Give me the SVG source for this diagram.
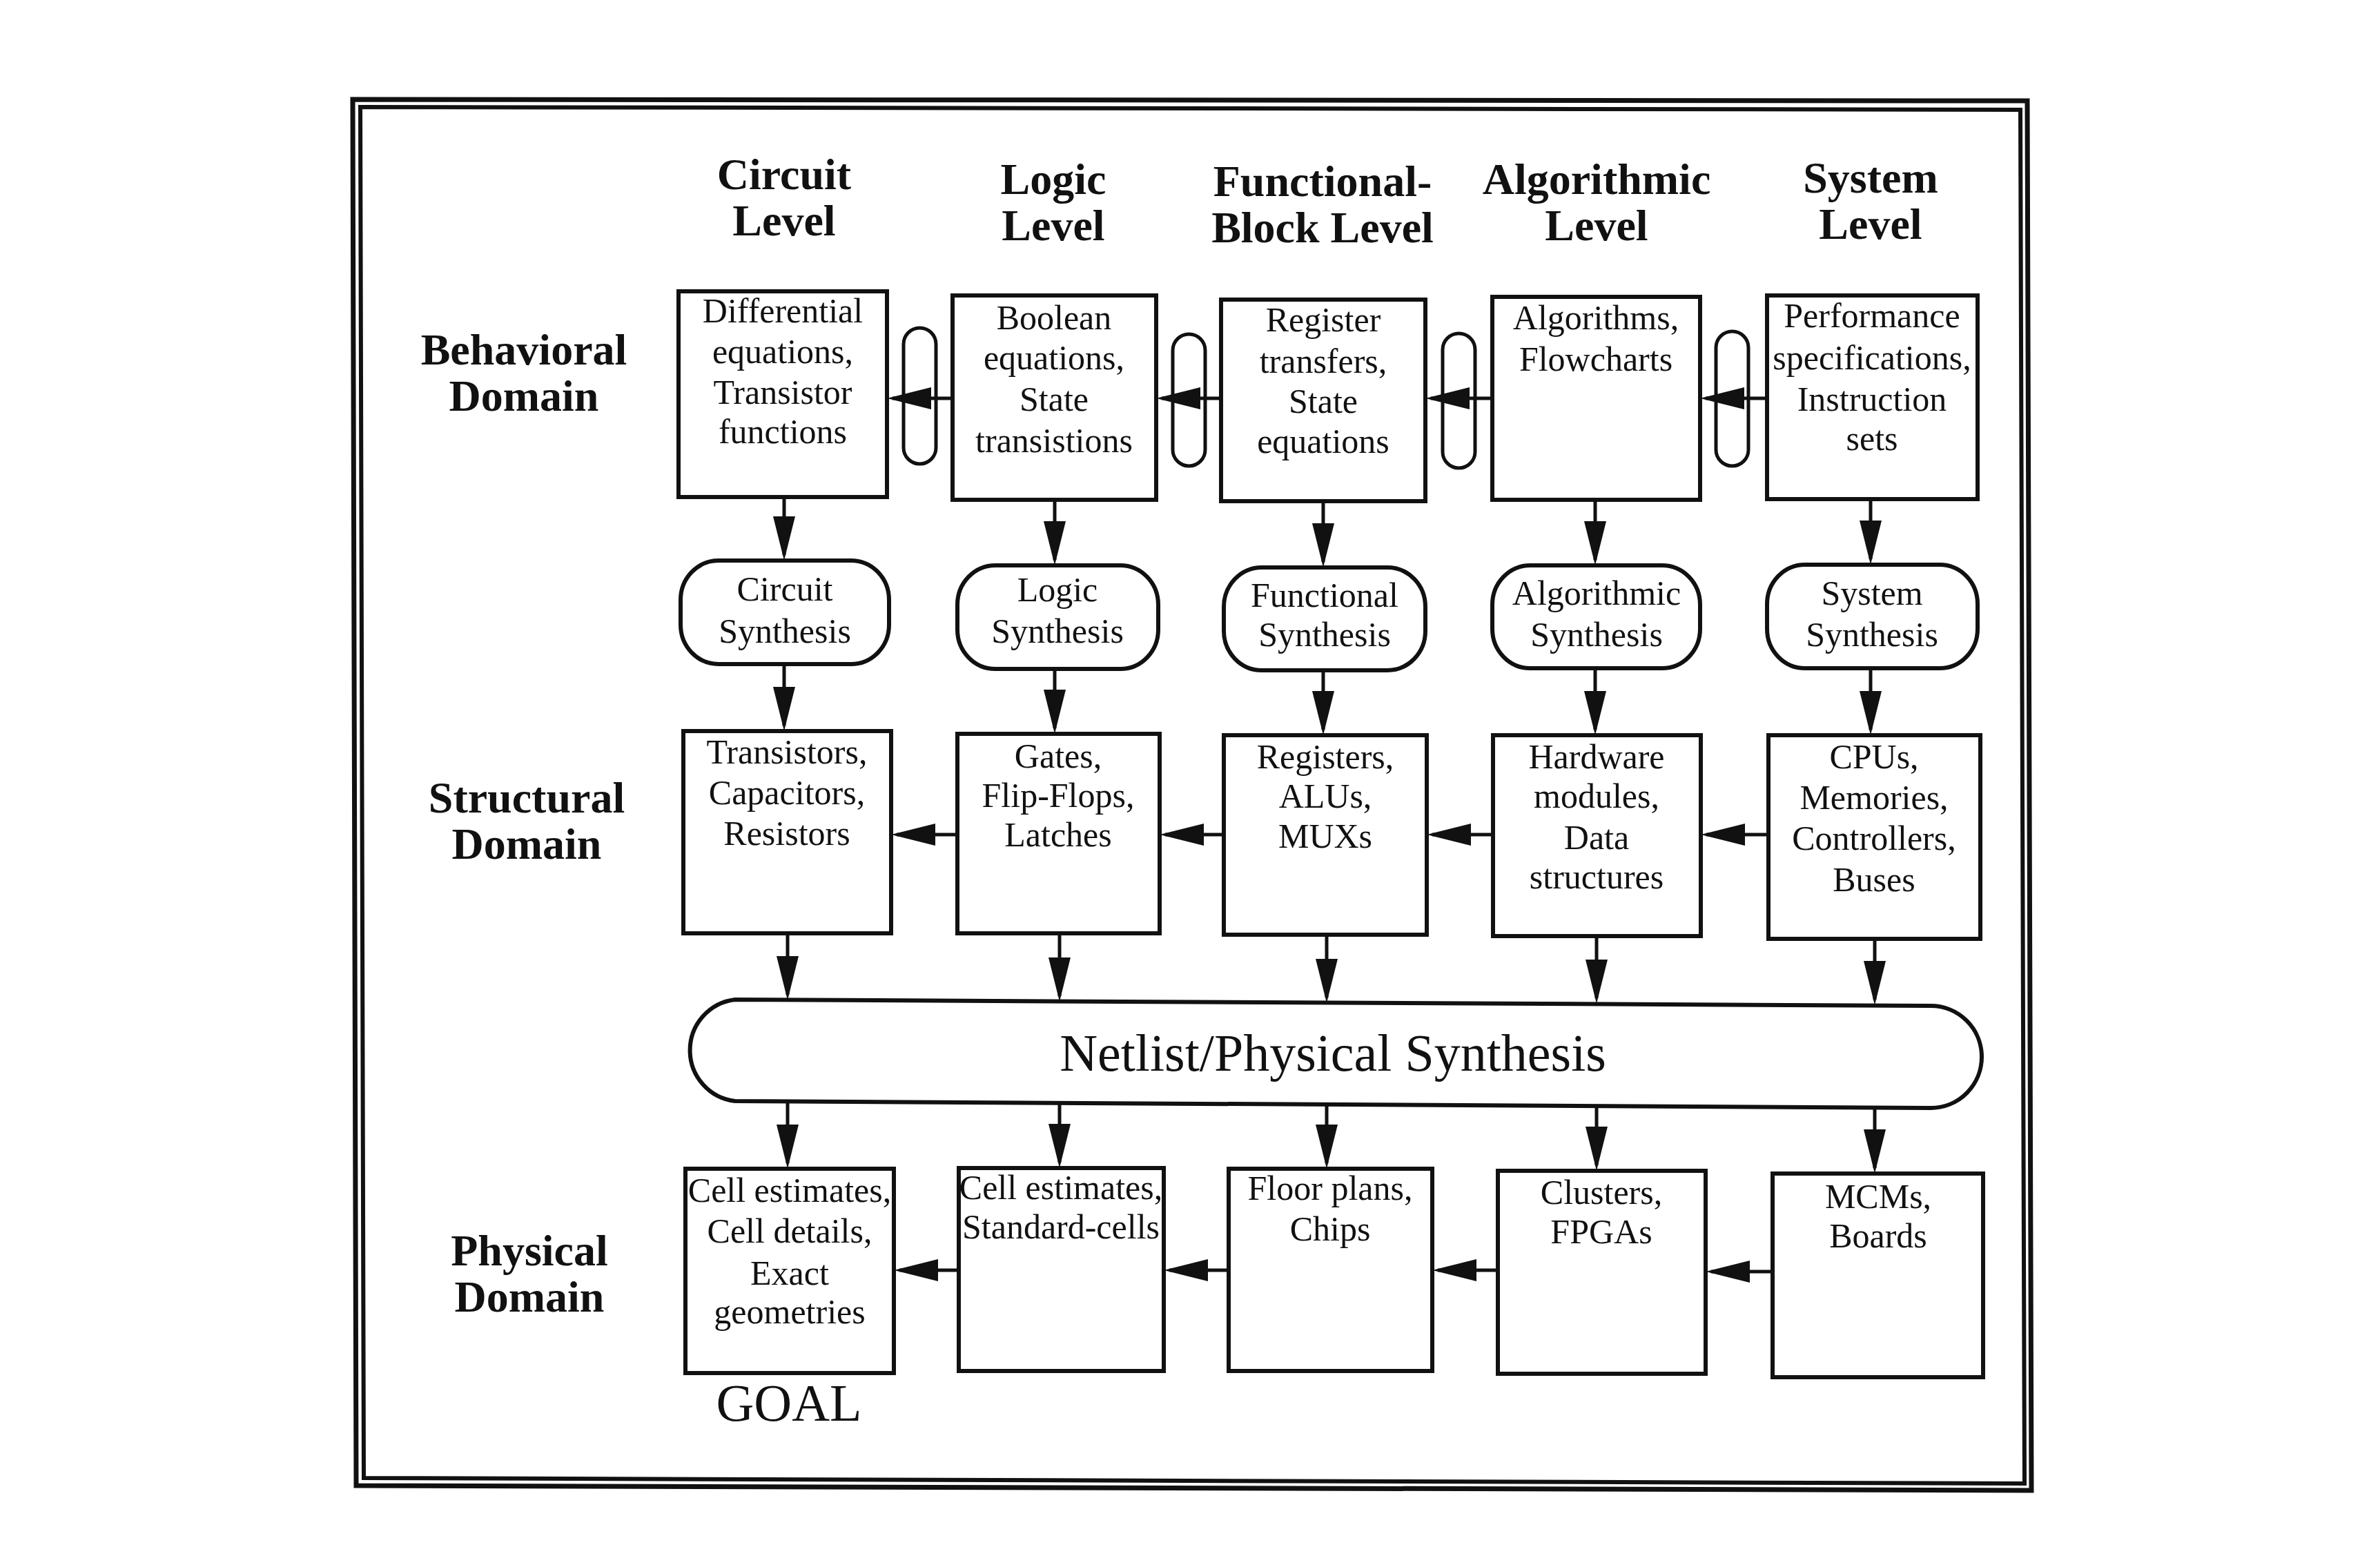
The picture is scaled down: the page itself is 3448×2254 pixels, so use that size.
<svg xmlns="http://www.w3.org/2000/svg" width="3448" height="2254" viewBox="0 0 3448 2254">
<style>
.frame{fill:none;stroke:#111;}
.box{fill:none;stroke:#111;stroke-width:6;}
.syn{fill:none;stroke:#111;stroke-width:6;}
.link{fill:none;stroke:#111;stroke-width:5;}
.arr{fill:none;stroke:#111;stroke-width:5;marker-end:url(#ah);}
.hd{font-family:"Liberation Serif","Times New Roman",serif;font-weight:bold;font-size:64px;text-anchor:middle;fill:#111;}
.tx{font-family:"Liberation Serif","Times New Roman",serif;font-size:50px;text-anchor:middle;fill:#111;}
.big{font-family:"Liberation Serif","Times New Roman",serif;font-size:76px;text-anchor:middle;fill:#111;}
</style>
<defs>
<marker id="ah" viewBox="0 0 64 32" refX="56" refY="16" markerWidth="64" markerHeight="32" markerUnits="userSpaceOnUse" orient="auto">
<path d="M0,0L64,16L0,32z" fill="#111"/>
</marker>
</defs>
<rect x="0" y="0" width="3448" height="2254" fill="#fff"/>
<g id="frame">
<path class="frame" stroke-width="7" d="M511,144L2937,146L2943,2159L516,2152Z"/>
<path class="frame" stroke-width="6" d="M522,155L2927,159L2933,2149L527,2141Z"/>
</g>
<g id="headers">
<text class="hd"><tspan x="1136" y="274">Circuit</tspan><tspan x="1136" y="341">Level</tspan></text>
<text class="hd"><tspan x="1526" y="281">Logic</tspan><tspan x="1526" y="348">Level</tspan></text>
<text class="hd"><tspan x="1916" y="284">Functional-</tspan><tspan x="1916" y="351">Block Level</tspan></text>
<text class="hd"><tspan x="2313" y="281">Algorithmic</tspan><tspan x="2313" y="348">Level</tspan></text>
<text class="hd"><tspan x="2710" y="279">System</tspan><tspan x="2710" y="346">Level</tspan></text>
<text class="hd"><tspan x="759" y="528">Behavioral</tspan><tspan x="759" y="595">Domain</tspan></text>
<text class="hd"><tspan x="763" y="1177">Structural</tspan><tspan x="763" y="1244">Domain</tspan></text>
<text class="hd"><tspan x="767" y="1833">Physical</tspan><tspan x="767" y="1900">Domain</tspan></text>
</g>
<g id="connectors">
<rect class="link" x="1309" y="475" width="47" height="197" rx="23.5"/>
<rect class="link" x="1699" y="484" width="47" height="191" rx="23.5"/>
<rect class="link" x="2090" y="483" width="47" height="195" rx="23.5"/>
<rect class="link" x="2486" y="480" width="47" height="195" rx="23.5"/>
<line class="arr" x1="1380" y1="577" x2="1293" y2="577"/>
<line class="arr" x1="1769" y1="577" x2="1683" y2="577"/>
<line class="arr" x1="2162" y1="577" x2="2073" y2="577"/>
<line class="arr" x1="2560" y1="577" x2="2471" y2="577"/>
<line class="arr" x1="1387" y1="1209" x2="1299" y2="1209"/>
<line class="arr" x1="1773" y1="1209" x2="1688" y2="1209"/>
<line class="arr" x1="2163" y1="1209" x2="2075" y2="1209"/>
<line class="arr" x1="2562" y1="1209" x2="2472" y2="1209"/>
<line class="arr" x1="1389" y1="1840" x2="1303" y2="1840"/>
<line class="arr" x1="1780" y1="1840" x2="1694" y2="1840"/>
<line class="arr" x1="2170" y1="1840" x2="2083" y2="1840"/>
<line class="arr" x1="2568" y1="1842" x2="2479" y2="1842"/>
<line class="arr" x1="1136" y1="720" x2="1136" y2="804"/>
<line class="arr" x1="1528" y1="724" x2="1528" y2="811"/>
<line class="arr" x1="1917" y1="726" x2="1917" y2="814"/>
<line class="arr" x1="2311" y1="724" x2="2311" y2="811"/>
<line class="arr" x1="2710" y1="723" x2="2710" y2="810"/>
<line class="arr" x1="1136" y1="962" x2="1136" y2="1051"/>
<line class="arr" x1="1528" y1="969" x2="1528" y2="1055"/>
<line class="arr" x1="1917" y1="971" x2="1917" y2="1057"/>
<line class="arr" x1="2311" y1="968" x2="2311" y2="1057"/>
<line class="arr" x1="2710" y1="968" x2="2710" y2="1057"/>
<line class="arr" x1="1141" y1="1352" x2="1141" y2="1441"/>
<line class="arr" x1="1535" y1="1352" x2="1535" y2="1443"/>
<line class="arr" x1="1922" y1="1354" x2="1922" y2="1445"/>
<line class="arr" x1="2313" y1="1356" x2="2313" y2="1446"/>
<line class="arr" x1="2716" y1="1360" x2="2716" y2="1448"/>
<line class="arr" x1="1141" y1="1596" x2="1141" y2="1685"/>
<line class="arr" x1="1535" y1="1598" x2="1535" y2="1684"/>
<line class="arr" x1="1922" y1="1600" x2="1922" y2="1685"/>
<line class="arr" x1="2313" y1="1602" x2="2313" y2="1688"/>
<line class="arr" x1="2716" y1="1604" x2="2716" y2="1692"/>
</g>
<g id="b1"><rect class="box" x="983" y="422" width="302" height="298"/>
<text class="tx"><tspan x="1134" y="467">Differential</tspan><tspan x="1134" y="526">equations,</tspan><tspan x="1134" y="585">Transistor</tspan><tspan x="1134" y="642">functions</tspan></text></g>
<g id="b2"><rect class="box" x="1380" y="428" width="295" height="296"/>
<text class="tx"><tspan x="1527" y="477">Boolean</tspan><tspan x="1527" y="535">equations,</tspan><tspan x="1527" y="595">State</tspan><tspan x="1527" y="655">transistions</tspan></text></g>
<g id="b3"><rect class="box" x="1769" y="434" width="296" height="292"/>
<text class="tx"><tspan x="1917" y="480">Register</tspan><tspan x="1917" y="540">transfers,</tspan><tspan x="1917" y="598">State</tspan><tspan x="1917" y="656">equations</tspan></text></g>
<g id="b4"><rect class="box" x="2162" y="430" width="301" height="294"/>
<text class="tx"><tspan x="2312" y="477">Algorithms,</tspan><tspan x="2312" y="537">Flowcharts</tspan></text></g>
<g id="b5"><rect class="box" x="2560" y="428" width="305" height="295"/>
<text class="tx"><tspan x="2712" y="474">Performance</tspan><tspan x="2712" y="535">specifications,</tspan><tspan x="2712" y="595">Instruction</tspan><tspan x="2712" y="652">sets</tspan></text></g>
<g id="s1"><rect class="syn" x="986" y="812" width="302" height="150" rx="55" ry="57"/>
<text class="tx"><tspan x="1137" y="870">Circuit</tspan><tspan x="1137" y="931">Synthesis</tspan></text></g>
<g id="s2"><rect class="syn" x="1387" y="819" width="291" height="150" rx="55" ry="57"/>
<text class="tx"><tspan x="1532" y="871">Logic</tspan><tspan x="1532" y="931">Synthesis</tspan></text></g>
<g id="s3"><rect class="syn" x="1773" y="822" width="292" height="149" rx="55" ry="57"/>
<text class="tx"><tspan x="1919" y="879">Functional</tspan><tspan x="1919" y="936">Synthesis</tspan></text></g>
<g id="s4"><rect class="syn" x="2162" y="819" width="301" height="149" rx="55" ry="57"/>
<text class="tx"><tspan x="2313" y="876">Algorithmic</tspan><tspan x="2313" y="936">Synthesis</tspan></text></g>
<g id="s5"><rect class="syn" x="2560" y="818" width="305" height="150" rx="55" ry="57"/>
<text class="tx"><tspan x="2712" y="876">System</tspan><tspan x="2712" y="936">Synthesis</tspan></text></g>
<g id="t1"><rect class="box" x="990" y="1059" width="301" height="293"/>
<text class="tx"><tspan x="1140" y="1106">Transistors,</tspan><tspan x="1140" y="1165">Capacitors,</tspan><tspan x="1140" y="1224">Resistors</tspan></text></g>
<g id="t2"><rect class="box" x="1387" y="1063" width="293" height="289"/>
<text class="tx"><tspan x="1533" y="1112">Gates,</tspan><tspan x="1533" y="1169">Flip-Flops,</tspan><tspan x="1533" y="1226">Latches</tspan></text></g>
<g id="t3"><rect class="box" x="1773" y="1065" width="294" height="289"/>
<text class="tx"><tspan x="1920" y="1113">Registers,</tspan><tspan x="1920" y="1170">ALUs,</tspan><tspan x="1920" y="1228">MUXs</tspan></text></g>
<g id="t4"><rect class="box" x="2163" y="1065" width="301" height="291"/>
<text class="tx"><tspan x="2313" y="1113">Hardware</tspan><tspan x="2313" y="1170">modules,</tspan><tspan x="2313" y="1230">Data</tspan><tspan x="2313" y="1287">structures</tspan></text></g>
<g id="t5"><rect class="box" x="2562" y="1065" width="307" height="295"/>
<text class="tx"><tspan x="2715" y="1113">CPUs,</tspan><tspan x="2715" y="1172">Memories,</tspan><tspan x="2715" y="1231">Controllers,</tspan><tspan x="2715" y="1291">Buses</tspan></text></g>
<g id="netlist"><path class="syn" d="M1065,1448L2797,1457A74,74 0 0 1 2797,1605L1065,1595A74,74 0 0 1 1065,1448Z"/>
<text class="big" x="1931" y="1551">Netlist/Physical Synthesis</text></g>
<g id="p1"><rect class="box" x="993" y="1693" width="302" height="296"/>
<text class="tx"><tspan x="1144" y="1741">Cell estimates,</tspan><tspan x="1144" y="1800">Cell details,</tspan><tspan x="1144" y="1861">Exact</tspan><tspan x="1144" y="1917">geometries</tspan></text></g>
<g id="p2"><rect class="box" x="1389" y="1692" width="297" height="294"/>
<text class="tx"><tspan x="1537" y="1737">Cell estimates,</tspan><tspan x="1537" y="1794">Standard-cells</tspan></text></g>
<g id="p3"><rect class="box" x="1780" y="1693" width="295" height="293"/>
<text class="tx"><tspan x="1927" y="1738">Floor plans,</tspan><tspan x="1927" y="1797">Chips</tspan></text></g>
<g id="p4"><rect class="box" x="2170" y="1696" width="301" height="294"/>
<text class="tx"><tspan x="2320" y="1744">Clusters,</tspan><tspan x="2320" y="1801">FPGAs</tspan></text></g>
<g id="p5"><rect class="box" x="2568" y="1700" width="305" height="295"/>
<text class="tx"><tspan x="2721" y="1750">MCMs,</tspan><tspan x="2721" y="1807">Boards</tspan></text></g>
<g id="goal"><text class="big" x="1143" y="2058">GOAL</text></g>
</svg>
